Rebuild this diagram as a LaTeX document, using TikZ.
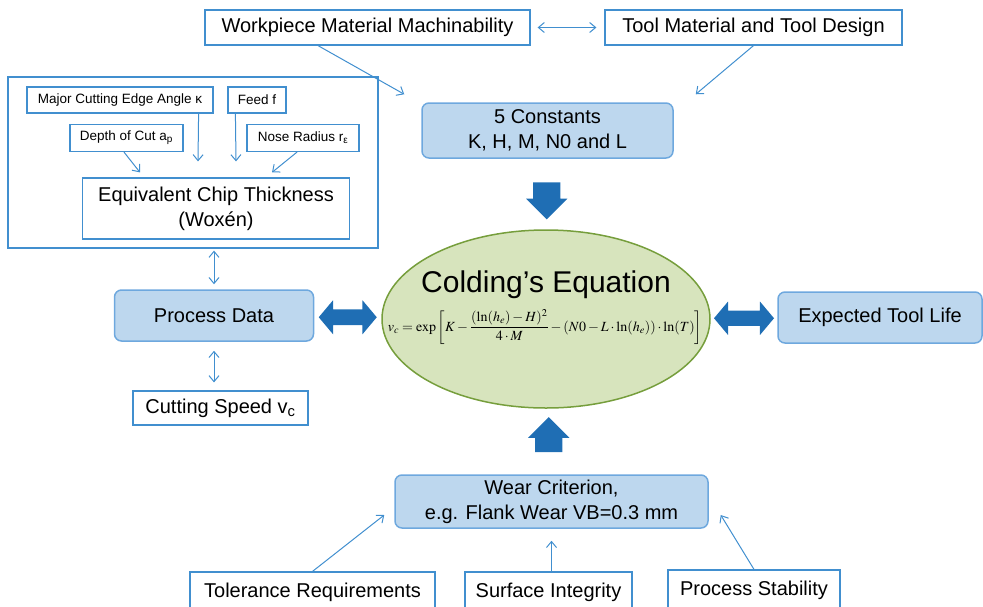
\documentclass[tikz,border=0pt]{standalone}
\usepackage{mathptmx}
\usepackage[no-math]{fontspec}
\setmainfont{Liberation Sans}
\usepackage{amsmath}
\usepackage{tikz}
\usetikzlibrary{shapes.geometric, shapes.arrows, arrows.meta, calc}

\definecolor{lineblue}{RGB}{65,143,207}
\definecolor{boxfill}{RGB}{189,215,238}
\definecolor{boxedge}{RGB}{110,168,222}
\definecolor{fatblue}{RGB}{31,110,180}
\definecolor{eqfill}{RGB}{215,228,189}
\definecolor{eqedge}{RGB}{118,158,60}

\begin{document}
\begin{tikzpicture}[
        x=1pt, y=-1pt,
        >={Straight Barb[length=6pt,width=10pt]},
        plainbox/.style={rectangle, draw=lineblue, line width=1.2pt, fill=white, inner sep=0pt, align=center, font=\fontsize{20}{25}\selectfont},
        smallbox/.style={plainbox, font=\fontsize{13.5}{16}\selectfont},
        keybox/.style={rectangle, rounded corners=7pt, draw=boxedge, line width=1.5pt, fill=boxfill, inner sep=0pt, align=center, font=\fontsize{20}{25}\selectfont},
        link/.style={draw=lineblue, line width=1pt},
        fatarrow/.style={single arrow, fill=fatblue, inner xsep=0pt, inner ysep=13.5pt, single arrow head extend=7pt, single arrow tip angle=90, minimum width=41pt},
        fatdouble/.style={double arrow, fill=fatblue, inner xsep=0pt, inner ysep=7.5pt, double arrow head extend=9pt, double arrow tip angle=100, minimum width=34pt}
    ]
        \useasboundingbox (0,0) rectangle (983,606);
        \clip (0,0) rectangle (983,606);

        % Influences on the constants
        \node[plainbox, minimum width=325pt, minimum height=35pt] (workpiece) at (367.5,27.5) {Workpiece Material Machinability};
        \node[plainbox, minimum width=297pt, minimum height=35pt] (toolmat) at (753.5,27.5) {Tool Material and Tool Design};
        \node[keybox, minimum width=251pt, minimum height=55pt] (consts) at (547.5,130.5) {5 Constants\\K, H, M, N0 and L};

        \draw[link, <->, shorten <=7pt, shorten >=8pt] (workpiece) -- (toolmat);
        \draw[link, ->] ([xshift=-49.5pt]workpiece.south) -- ([xshift=-17pt,yshift=8pt]consts.north west);
        \draw[link, ->] (toolmat.south) -- ([xshift=22pt,yshift=8pt]consts.north east);

        % Chip thickness group
        \node[rectangle, draw=lineblue, line width=1.2pt, minimum width=370pt, minimum height=171pt, inner sep=0pt] (chipgroup) at (193,162.5) {};
        \node[smallbox, minimum width=186pt, minimum height=26pt] (angle) at (120,100) {Major Cutting Edge Angle κ};
        \node[smallbox, minimum width=58pt, minimum height=26pt] (feed) at (257,100) {Feed f};
        \node[smallbox, minimum width=113pt, minimum height=27pt] (depth) at (126.5,138) {Depth of Cut a\textsubscript{p}};
        \node[smallbox, minimum width=112pt, minimum height=27pt] (nose) at (303,138) {Nose Radius r\textsubscript{ε}};
        \node[plainbox, minimum width=267pt, minimum height=61pt] (chip) at (216,208.5) {Equivalent Chip Thickness\\(Woxén)};

        \draw[link, ->] ([xshift=-2.5pt]depth.south) -- ([xshift=-76pt,yshift=5pt]chip.north);
        \draw[link, ->] ([xshift=-15pt]angle.south east) -- ([xshift=-18pt,yshift=16pt]chip.north);
        \draw[link, ->] ([xshift=8pt]feed.south west) -- ([xshift=20pt,yshift=16pt]chip.north);
        \draw[link, ->] ([xshift=-6pt]nose.south) -- ([xshift=56pt,yshift=5pt]chip.north);

        % Process data
        \node[keybox, minimum width=199pt, minimum height=51pt] (procdata) at (214,315.5) {Process Data};
        \node[plainbox, minimum width=175pt, minimum height=34pt] (speed) at (220.5,408) {Cutting Speed v\textsubscript{c}};

        \draw[link, <->, shorten <=2pt, shorten >=5pt] (procdata.north |- chipgroup.south) -- (procdata.north);
        \draw[link, <->, shorten <=9pt, shorten >=8pt] (procdata.south) -- (procdata.south |- speed.north);

        % Equation
        \node[ellipse, draw=eqedge, line width=1.5pt, fill=eqfill, minimum width=328pt, minimum height=178pt] (colding) at (546,319) {};
        \node[font=\fontsize{30}{36}\selectfont] (title) at (546,285) {Colding's Equation};
        \node[font=\fontsize{14}{16}\selectfont] (formula) at (545,327) {$\displaystyle v_c=\exp\left[K-\frac{(\ln(h_e)-H)^2}{4\cdot M}-(N0-L\cdot\ln(h_e))\cdot\ln(T)\right]$};

        \node[keybox, minimum width=204pt, minimum height=51pt] (toollife) at (880,317.5) {Expected Tool Life};

        % Wear criterion
        \node[keybox, minimum width=313pt, minimum height=53pt] (wear) at (551.5,501.5) {Wear Criterion,\\e.g. Flank Wear VB=0.3 mm};
        \node[plainbox, minimum width=245pt, minimum height=40pt] (tolerance) at (312.5,592) {Tolerance Requirements};
        \node[plainbox, minimum width=167pt, minimum height=40pt] (surface) at (548.5,592) {Surface Integrity};
        \node[plainbox, minimum width=172pt, minimum height=40pt] (stability) at (754,590) {Process Stability};

        \draw[link, ->] (tolerance.north) -- ([xshift=-10pt,yshift=-13.5pt]wear.west);
        \draw[link, ->] (surface.north -| wear.south) -- ([yshift=-12pt]wear.south);
        \draw[link, ->] (stability.north) -- ([xshift=12pt,yshift=-13.5pt]wear.east);

        % Block arrows
        \node[fatdouble, minimum height=58pt] (leftflow) at ($(procdata.east)!0.5!(colding.west)$) {};
        \node[fatdouble, minimum height=60pt, minimum width=33pt] (rightflow) at ($(colding.east)!0.5!(toollife.west)$) {};
        \node[fatarrow, rotate=-90, minimum height=37pt] (constflow) at ($(consts.south)!0.5!(colding.north)$) {};
        \node[fatarrow, rotate=90, minimum height=35pt] (wearflow) at ($(colding.south)!0.5!(wear.north)$) {};
    \end{tikzpicture}
\end{document}
